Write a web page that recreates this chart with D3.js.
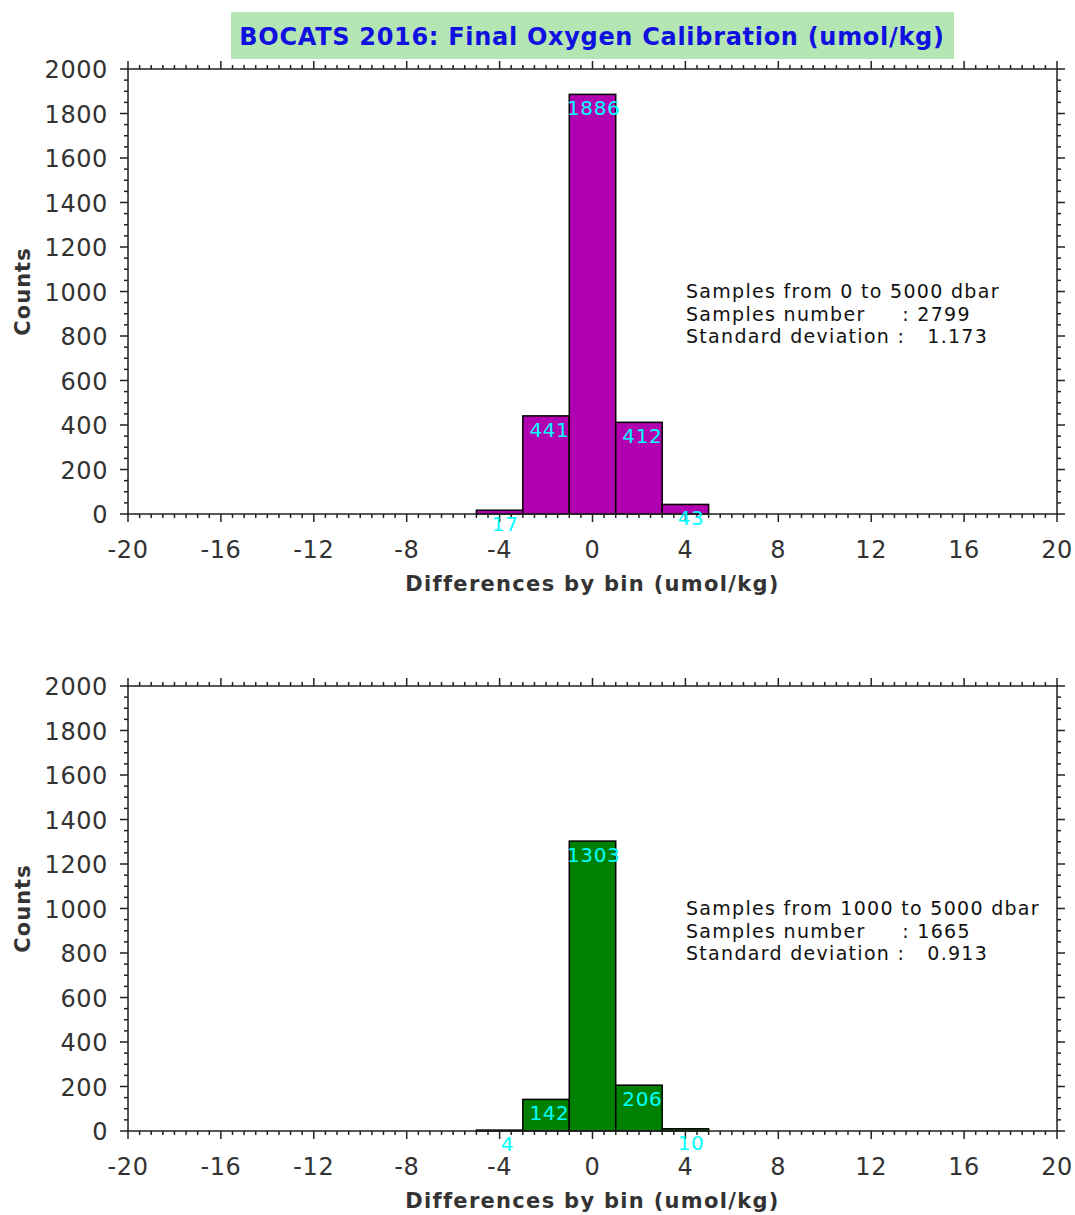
<!DOCTYPE html>
<html><head><meta charset="utf-8">
<script src="https://cdn.jsdelivr.net/npm/d3@7"></script>
<style>body{margin:0;background:#fff}svg{display:block}</style>
</head><body>
<svg id="c" width="1075" height="1215"></svg>
<script>
// ---- data ----
const binStarts = [-5, -3, -1, 1, 3];
const binWidth = 2;
const countsAll = [17, 441, 1886, 412, 43];
const countsDeep = [4, 142, 1303, 206, 10];
const xTicks = [-20, -16, -12, -8, -4, 0, 4, 8, 12, 16, 20];
const yTicks = [0, 200, 400, 600, 800, 1000, 1200, 1400, 1600, 1800, 2000];
const titleText = "BOCATS 2016: Final Oxygen Calibration (umol/kg)";
const xTitle = "Differences by bin (umol/kg)";
const yTitle = "Counts";
const notesAll = ["Samples from 0 to 5000 dbar", "Samples number     : 2799", "Standard deviation :   1.173"];
const notesDeep = ["Samples from 1000 to 5000 dbar", "Samples number     : 1665", "Standard deviation :   0.913"];

const svg = d3.select("#c");
const FONT = "DejaVu Sans, Verdana, sans-serif";
const TXT = "#333";

// title
svg.append("rect").attr("x", 231).attr("y", 12).attr("width", 723).attr("height", 47).attr("fill", "#b3e6b3");
svg.append("text").attr("x", 592).attr("y", 45).attr("text-anchor", "middle")
  .attr("font-family", FONT).attr("font-weight", "bold").attr("font-size", 24)
  .attr("letter-spacing", 0.7).attr("fill", "#1010e0").text(titleText);

function panel(top, counts, fill, notes) {
  const L = 128, R = 1057, T = top, B = top + 445;
  const x = d3.scaleLinear().domain([-20, 20]).range([L, R]);
  const y = d3.scaleLinear().domain([0, 2000]).range([B, T]);
  const g = svg.append("g");

  const minorX = d3.range(-20, 20.001, 0.5);
  const minorY = d3.range(0, 2000.1, 50);
  const isMajX = v => Math.abs(v / 4 - Math.round(v / 4)) < 1e-6;
  const isMajY = v => v % 200 === 0;

  // bars
  g.selectAll("rect.bar").data(counts).join("rect")
    .attr("x", (d, i) => x(binStarts[i]))
    .attr("width", (d, i) => x(binStarts[i] + binWidth) - x(binStarts[i]))
    .attr("y", d => y(d)).attr("height", d => y(0) - y(d))
    .attr("fill", fill).attr("stroke", "#000").attr("stroke-width", 1.5);

  // ticks
  const tk = g.append("g").attr("stroke", "#222").attr("stroke-width", 1.5);
  minorX.forEach(v => {
    const len = isMajX(v) ? 8 : 4;
    tk.append("line").attr("x1", x(v)).attr("x2", x(v)).attr("y1", B).attr("y2", B + len);
    tk.append("line").attr("x1", x(v)).attr("x2", x(v)).attr("y1", T).attr("y2", T - len);
  });
  minorY.forEach(v => {
    const len = isMajY(v) ? 8 : 4;
    tk.append("line").attr("y1", y(v)).attr("y2", y(v)).attr("x1", L).attr("x2", L - len);
    tk.append("line").attr("y1", y(v)).attr("y2", y(v)).attr("x1", R).attr("x2", R + len);
  });
  // frame
  g.append("rect").attr("x", L).attr("y", T).attr("width", R - L).attr("height", B - T)
    .attr("fill", "none").attr("stroke", "#222").attr("stroke-width", 1.5);

  // tick labels
  g.selectAll("text.xt").data(xTicks).join("text")
    .attr("x", d => x(d)).attr("y", B + 44).attr("text-anchor", "middle")
    .attr("font-family", FONT).attr("font-size", 24).attr("letter-spacing", 0.6)
    .attr("fill", TXT).text(d => d);
  g.selectAll("text.yt").data(yTicks).join("text")
    .attr("x", L - 20).attr("y", d => y(d) + 9).attr("text-anchor", "end")
    .attr("font-family", FONT).attr("font-size", 24).attr("letter-spacing", 0.6)
    .attr("fill", TXT).text(d => d);

  // bar labels
  g.selectAll("text.bl").data(counts).join("text")
    .attr("x", (d, i) => x(binStarts[i] + binWidth / 2) + 10 - 2.2 * String(d).length)
    .attr("y", d => y(d) + 21).attr("text-anchor", "middle")
    .attr("font-family", FONT).attr("font-size", 20).attr("letter-spacing", 0.6)
    .attr("fill", "#00ffff").text(d => d);

  // axis titles
  g.append("text").attr("x", (L + R) / 2).attr("y", B + 77).attr("text-anchor", "middle")
    .attr("font-family", FONT).attr("font-weight", "bold").attr("font-size", 21)
    .attr("letter-spacing", 1.3).attr("fill", TXT).text(xTitle);
  g.append("text").attr("transform", `translate(30,${(T + B) / 2}) rotate(-90)`).attr("text-anchor", "middle")
    .attr("font-family", FONT).attr("font-weight", "bold").attr("font-size", 21)
    .attr("letter-spacing", 1).attr("fill", TXT).text(yTitle);

  // notes
  g.selectAll("text.nt").data(notes).join("text")
    .attr("x", 686).attr("y", (d, i) => T + 229 + i * 22.5)
    .attr("xml:space", "preserve").style("white-space", "pre")
    .attr("font-family", FONT).attr("font-size", 19).attr("letter-spacing", 1.3)
    .attr("fill", "#111").text(d => d);
}

panel(69, countsAll, "#b000b0", notesAll);
panel(686, countsDeep, "#008000", notesDeep);
</script>
</body></html>
